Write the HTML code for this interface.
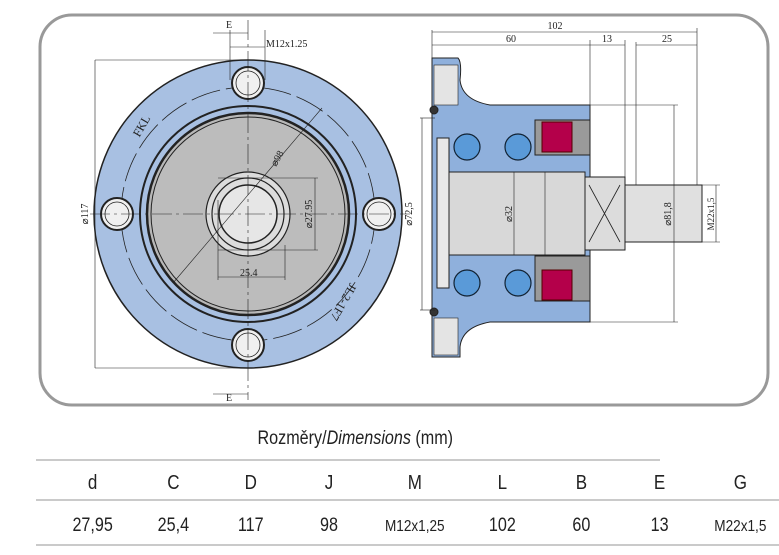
<!DOCTYPE html>
<html><head><meta charset="utf-8"><style>
body{margin:0;width:779px;height:555px;background:#fff;overflow:hidden;font-family:"Liberation Sans",sans-serif}
svg{position:absolute;left:0;top:0}
</style></head><body>
<svg width="779" height="555" viewBox="0 0 779 555" font-family="Liberation Serif" font-size="10">
<rect x="40" y="15" width="728" height="390" rx="32" fill="none" stroke="#999" stroke-width="3"/>
<!-- left view -->
<g stroke="#222" stroke-width="1.2">
<circle cx="248" cy="214" r="154" fill="#a8c0e2" stroke-width="1.5"/>
<circle cx="248" cy="214" r="127" fill="none" stroke-dasharray="30 6" stroke-width="0.8"/>
<circle cx="248" cy="214" r="108" fill="#a8c0e2" stroke-width="2"/>
<circle cx="248" cy="214" r="101" fill="#b8b8b8" stroke-width="2.5"/>
<circle cx="248" cy="214" r="97" fill="#bcbcbc" stroke-width="1"/>
<circle cx="248" cy="214" r="42" fill="#dcdcdc"/>
<circle cx="248" cy="214" r="36" fill="#dcdcdc"/>
<circle cx="248" cy="214" r="29" fill="#e6e6e6" stroke-width="1.5"/>
<g fill="#f0f0f0" stroke-width="2">
<circle cx="248" cy="83" r="16"/><circle cx="248" cy="345" r="16"/><circle cx="117" cy="214" r="16"/><circle cx="379" cy="214" r="16"/>
</g>
<g fill="none" stroke-width="0.8">
<circle cx="248" cy="83" r="12"/><circle cx="248" cy="345" r="12"/><circle cx="117" cy="214" r="12"/><circle cx="379" cy="214" r="12"/>
</g>
<g stroke-width="0.6" fill="none">
<line x1="248" y1="20" x2="248" y2="400" stroke-dasharray="20 4 3 4"/>
<line x1="90" y1="214" x2="410" y2="214" stroke-dasharray="20 4 3 4"/>
<line x1="95" y1="60" x2="248" y2="60"/><line x1="95" y1="368" x2="248" y2="368"/>
<line x1="95" y1="60" x2="95" y2="368"/>
<line x1="173" y1="283" x2="322" y2="108"/>
<line x1="218" y1="178" x2="318" y2="178"/><line x1="218" y1="250" x2="318" y2="250"/>
<line x1="315" y1="178" x2="315" y2="250"/>
<line x1="218" y1="200" x2="218" y2="280"/><line x1="285" y1="245" x2="285" y2="280"/>
<line x1="218" y1="277" x2="285" y2="277"/>
<line x1="230" y1="30" x2="230" y2="80"/><line x1="265" y1="30" x2="265" y2="80"/>
<line x1="230" y1="47" x2="265" y2="47"/>
<line x1="213" y1="33" x2="248" y2="33"/><line x1="213" y1="394" x2="248" y2="394"/>
</g>
</g>
<g fill="#222">
<text x="226" y="28">E</text><text x="226" y="401">E</text>
<text x="266" y="47">M12x1.25</text>
<text x="240" y="276">25.4</text>
<text transform="translate(312,214) rotate(-90)" text-anchor="middle">⌀27.95</text>
<text transform="translate(88,214) rotate(-90)" text-anchor="middle">⌀117</text>
<text transform="translate(280,160) rotate(-60)" text-anchor="middle">⌀98</text>
<text transform="translate(412,214) rotate(-90)" text-anchor="middle">⌀72,5</text>
<text transform="translate(145,128) rotate(-60)" font-size="12" text-anchor="middle">FKL</text>
<text transform="translate(340,300) rotate(120)" font-size="12" text-anchor="middle">JL2-1F7</text>
</g>
<!-- right view -->
<g stroke="#222" stroke-width="1">
<path d="M432 58 H458 Q462 62 460 80 Q462 100 490 105 H590 V322 H490 Q462 327 460 347 V357 H432 Z" fill="#8fb0dc"/>
<rect x="434" y="65" width="24" height="40" fill="#e4e4e4" stroke-width="0.6"/>
<rect x="434" y="318" width="24" height="37" fill="#e4e4e4" stroke-width="0.6"/>
<rect x="535" y="120" width="55" height="35" fill="#9a9a9a"/>
<rect x="535" y="256" width="55" height="45" fill="#9a9a9a"/>
<rect x="448" y="172" width="137" height="83" fill="#d8d8d8"/>
<rect x="437" y="138" width="12" height="150" fill="#e8e8e8"/>
<rect x="585" y="177" width="40" height="73" fill="#dcdcdc"/>
<path d="M589 185 L620 242 M620 185 L589 242" stroke-width="0.8"/>
<rect x="625" y="185" width="77" height="57" fill="#e0e0e0"/>
<g fill="#b4004a" stroke="#500">
<rect x="542" y="122" width="30" height="30"/><rect x="542" y="270" width="30" height="30"/>
</g>
<g fill="#5a9ad8" stroke="#123" stroke-width="1.2">
<circle cx="467" cy="147" r="13"/><circle cx="518" cy="147" r="13"/>
<circle cx="467" cy="283" r="13"/><circle cx="518" cy="283" r="13"/>
</g>
<circle cx="434" cy="110" r="4" fill="#333"/><circle cx="434" cy="312" r="4" fill="#333"/>
<g stroke-width="0.6" fill="none">
<line x1="432" y1="30" x2="432" y2="58"/><line x1="697" y1="28" x2="697" y2="185"/>
<line x1="432" y1="32" x2="697" y2="32"/>
<line x1="432" y1="45" x2="590" y2="45"/><line x1="590" y1="40" x2="590" y2="105"/>
<line x1="590" y1="45" x2="625" y2="45"/><line x1="625" y1="40" x2="625" y2="177"/>
<line x1="636" y1="45" x2="697" y2="45"/><line x1="636" y1="42" x2="636" y2="185"/>
<line x1="545" y1="172" x2="545" y2="255"/>
<line x1="514" y1="172" x2="514" y2="255"/>
<line x1="420" y1="118" x2="435" y2="118"/><line x1="420" y1="310" x2="435" y2="310"/>
<line x1="422" y1="118" x2="422" y2="310"/>
<line x1="590" y1="105" x2="678" y2="105"/><line x1="590" y1="322" x2="678" y2="322"/>
<line x1="674" y1="105" x2="674" y2="322"/>
<line x1="702" y1="185" x2="720" y2="185"/><line x1="702" y1="242" x2="720" y2="242"/>
<line x1="716" y1="185" x2="716" y2="242"/>
</g>
</g>
<g fill="#222">
<text x="555" y="29" text-anchor="middle">102</text>
<text x="511" y="42" text-anchor="middle">60</text>
<text x="607" y="42" text-anchor="middle">13</text>
<text x="667" y="42" text-anchor="middle">25</text>
<text transform="translate(512,214) rotate(-90)" text-anchor="middle">⌀32</text>
<text transform="translate(671,214) rotate(-90)" text-anchor="middle">⌀81,8</text>
<text transform="translate(714,214) rotate(-90)" text-anchor="middle" font-size="9">M22x1,5</text>
</g>
<!-- table -->
<g font-family="Liberation Sans" fill="#222" text-anchor="middle">
<g transform="scale(0.85 1)">
<text x="418" y="444" font-size="19">Rozměry/<tspan font-style="italic">Dimensions</tspan> (mm)</text>
<g font-size="20"><text x="109" y="489">d</text><text x="204" y="489">C</text><text x="295" y="489">D</text><text x="387" y="489">J</text><text x="488" y="489">M</text><text x="591" y="489">L</text><text x="684" y="489">B</text><text x="776" y="489">E</text><text x="871" y="489">G</text></g>
<g font-size="19"><text x="109" y="531">27,95</text><text x="204" y="531">25,4</text><text x="295" y="531">117</text><text x="387" y="531">98</text><text x="488" y="531" font-size="16">M12x1,25</text><text x="591" y="531">102</text><text x="684" y="531">60</text><text x="776" y="531">13</text><text x="871" y="531" font-size="16">M22x1,5</text></g>
</g>
</g>
<g stroke="#aaa" stroke-width="1.2">
<line x1="36" y1="460" x2="660" y2="460"/>
<line x1="36" y1="500" x2="779" y2="500"/>
<line x1="36" y1="545" x2="779" y2="545"/>
</g>
</svg>
</body></html>
